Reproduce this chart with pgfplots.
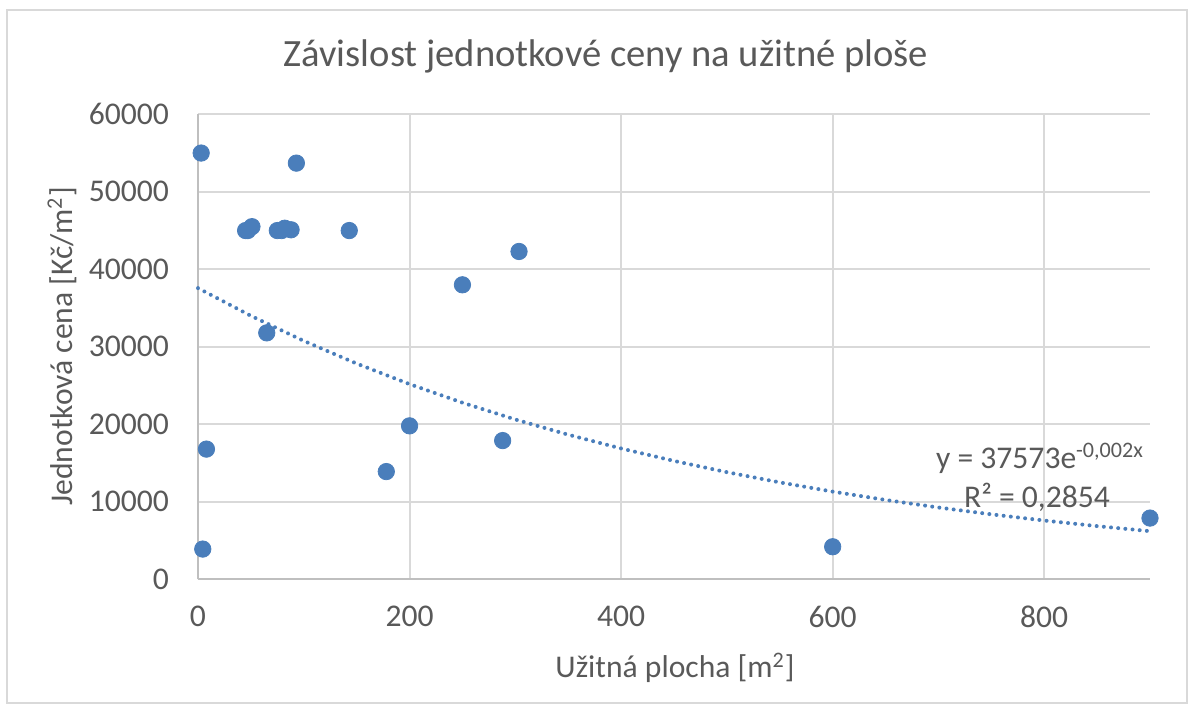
\documentclass[border=0pt]{standalone}
\usepackage{pgfplots}
\pgfplotsset{compat=1.18}
\usepackage{fontspec}
\setmainfont{Carlito}
\definecolor{txt}{HTML}{595959}
\definecolor{grd}{HTML}{D9D9D9}
\definecolor{axl}{HTML}{BFBFBF}
\definecolor{dotc}{HTML}{4A7EBB}
\begin{document}
\begin{tikzpicture}
\path[use as bounding box] (-99pt,-66.85pt) rectangle (498pt,289.65pt);
\draw[grd, line width=0.75pt] (-95.5pt,-61.85pt) rectangle (494.5pt,284.65pt);
\begin{axis}[
  at={(0pt,0pt)}, anchor=south west,
  scale only axis, width=476pt, height=232.5pt,
  xmin=0, xmax=900, ymin=0, ymax=60000,
  xtick={0,200,400,600,800}, ytick={0,10000,...,60000},
  grid=major, major grid style={grd, line width=1pt},
  axis line style={draw=none},
  tick style={draw=none},
  /pgf/number format/assume math mode=true,
  /pgf/number format/1000 sep={},
  scaled y ticks=false,
  ticklabel style={font=\fontsize{15.8}{18}\selectfont, text=txt},
  xticklabel style={yshift=-10pt},
  yticklabel style={xshift=-11pt},
  clip=false,
]
\draw[axl, line width=1pt] (axis cs:0,0) -- (axis cs:900,0);
\draw[axl, line width=1pt] (axis cs:0,0) -- (axis cs:0,60000);
\addplot[only marks, mark=*, mark size=4.1pt, color=dotc, mark options={draw=dotc, fill=dotc}] coordinates {
(3,55000) (4.5,3900) (8,16800) (45,45000) (47,45000) (51,45500)
(75,45000) (79,45000) (82,45300) (88,45100) (65,31800) (93,53700)
(143,45000) (178,13900) (200,19800) (250,38000) (288,17900)
(303.5,42300) (600,4200) (900,7900)
};
\addplot[dotc, line width=2pt, line cap=round, dash pattern=on 0pt off 3.6pt, mark=none] coordinates {
(0,37573) (50,33998) (100,30762) (150,27835) (200,25186) (250,22789)
(300,20621) (350,18658) (400,16883) (450,15276) (500,13822) (550,12507)
(600,11317) (650,10240) (700,9265) (750,8383) (800,7586) (850,6864) (900,6211)
};
\end{axis}
\node[text=txt, font=\fontsize{19.3}{23}\selectfont] at (204pt,261.2pt) {Závislost jednotkové ceny na užitné ploše};
\node[text=txt, font=\fontsize{15.8}{19}\selectfont, rotate=90] at (-68pt,116.5pt) {Jednotková cena [Kč/m\textsuperscript{2}]};
\node[text=txt, font=\fontsize{15.8}{19}\selectfont] at (238.5pt,-44.3pt) {Užitná plocha [m\textsuperscript{2}]};
\node[text=txt, font=\fontsize{15.8}{19}\selectfont] at (421pt,60.5pt) {y = 37573e\textsuperscript{-0,002x}};
\node[text=txt, font=\fontsize{15.8}{19}\selectfont] at (419.5pt,41pt) {R² = 0,2854};
\end{tikzpicture}
\end{document}
